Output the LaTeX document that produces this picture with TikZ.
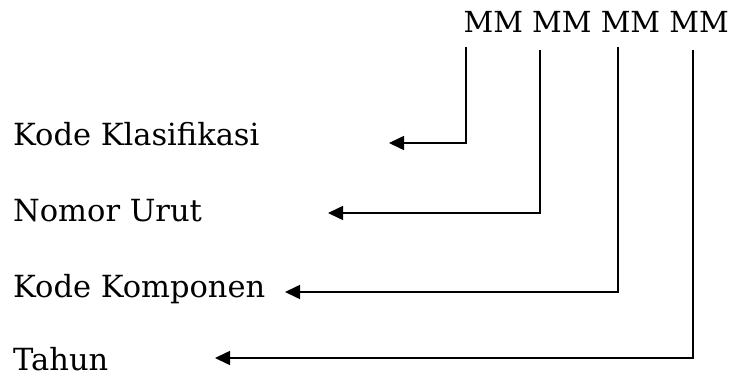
\documentclass[tikz,border=0pt]{standalone}
\usepackage{fontspec}
\setmainfont{DejaVu Serif}
\usetikzlibrary{arrows.meta}
\begin{document}
\begin{tikzpicture}[x=1pt,y=-1pt,
  label/.style={anchor=base west,inner sep=0pt,font=\fontsize{30.5}{34}\selectfont},
  code/.style={anchor=base east,inner sep=0pt,font=\fontsize{29}{33}\selectfont},
  link/.style={line width=1.6pt,-{Triangle[length=15pt,width=14pt]}}]
\useasboundingbox (0,0) rectangle (729,377);
% code string at the top
\node[code] (mm) at (729,33) {MM MM MM MM};
% field names
\node[label] (k1) at (13,146) {Kode Klasifikasi};
\node[label] (k2) at (13,222) {Nomor Urut};
\node[label] (k3) at (13,298) {Kode Komponen};
\node[label,text depth=0pt] (k4) at (13,370) {Tahun};
% tops of the leader lines and arrow ends
\coordinate (t1) at (466,47);
\coordinate (t2) at (540,50);
\coordinate (t3) at (618,47);
\coordinate (t4) at (693,50);
\coordinate (e1) at (389,143);
\coordinate (e2) at (328,213);
\coordinate (e3) at (285,292);
\coordinate (e4) at (215,358);
\draw[link] (t1) |- (e1);
\draw[link] (t2) |- (e2);
\draw[link] (t3) |- (e3);
\draw[link] (t4) |- (e4);
\end{tikzpicture}
\end{document}
